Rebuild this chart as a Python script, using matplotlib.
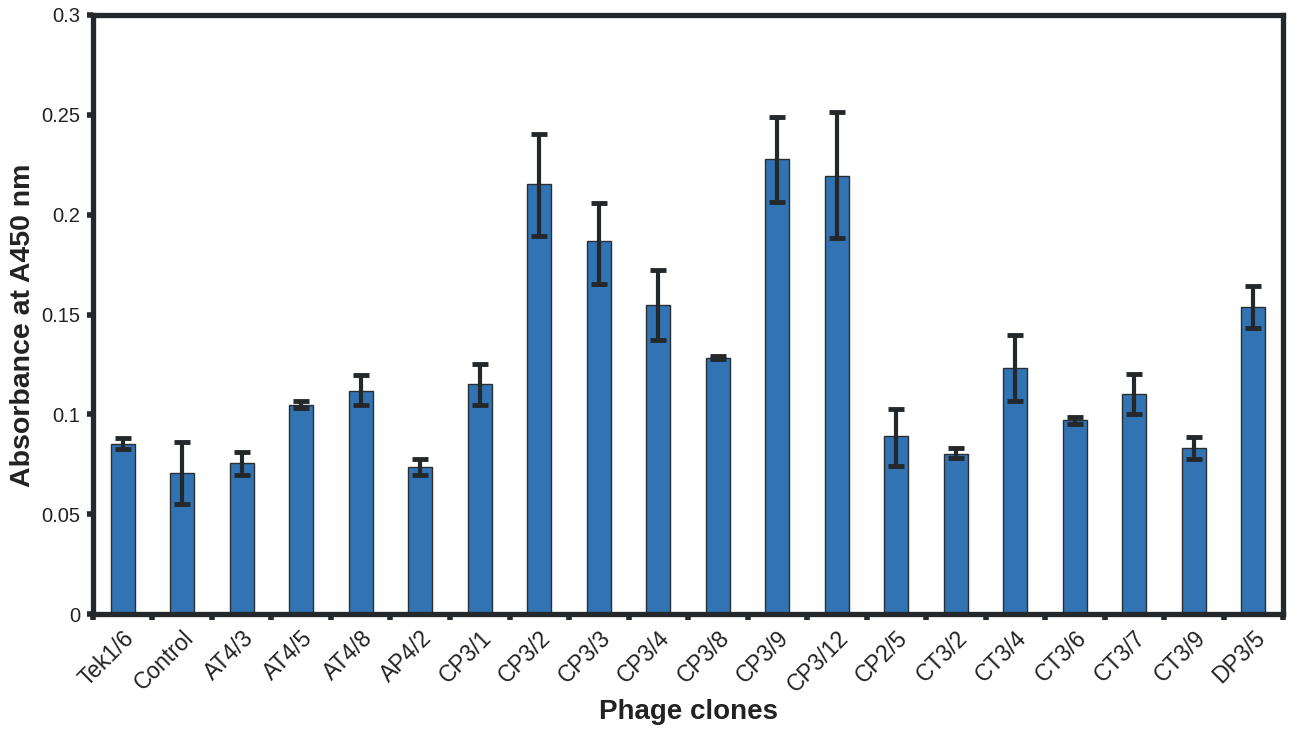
import matplotlib
matplotlib.use('Agg')
import matplotlib.pyplot as plt
import numpy as np

plt.rcParams['font.family'] = ['Liberation Sans', 'DejaVu Sans']

# phage clones and absorbance readings (mean, upper and lower error ends)
clones = ['Tek1/6', 'Control', 'AT4/3', 'AT4/5', 'AT4/8', 'AP4/2', 'CP3/1',
          'CP3/2', 'CP3/3', 'CP3/4', 'CP3/8', 'CP3/9', 'CP3/12', 'CP2/5',
          'CT3/2', 'CT3/4', 'CT3/6', 'CT3/7', 'CT3/9', 'DP3/5']
absorb = [0.0851, 0.0706, 0.0756, 0.1047, 0.1117, 0.0736, 0.1152,
          0.2153, 0.1868, 0.1547, 0.1282, 0.2278, 0.2193, 0.0891,
          0.0801, 0.1232, 0.0971, 0.1102, 0.0831, 0.1537]
err_hi = [0.0880, 0.0860, 0.0810, 0.1067, 0.1197, 0.0776, 0.1252,
          0.2404, 0.2058, 0.1723, 0.1290, 0.2489, 0.2514, 0.1027,
          0.0831, 0.1397, 0.0986, 0.1202, 0.0886, 0.1642]
err_lo = [0.0826, 0.0550, 0.0696, 0.1032, 0.1047, 0.0696, 0.1047,
          0.1893, 0.1652, 0.1372, 0.1277, 0.2063, 0.1883, 0.0741,
          0.0781, 0.1067, 0.0951, 0.1002, 0.0776, 0.1432]

absorb = np.array(absorb)
yerr = [absorb - np.array(err_lo), np.array(err_hi) - absorb]

dark = '#24282b'
txt = '#222222'
fig = plt.figure(figsize=(13, 7.31), dpi=100)
ax = fig.add_axes([0.0715, 0.160, 0.9155, 0.8195])

x = np.arange(len(clones))
ax.bar(x, absorb, width=0.4, color='#3274b3', edgecolor='#2a2e30', linewidth=1.0, zorder=2)
eb = ax.errorbar(x, absorb, yerr=yerr, fmt='none', ecolor=dark, elinewidth=3,
                 capsize=6, capthick=3.5, zorder=3)

ax.set_xlim(-0.5, len(clones) - 0.5)
ax.set_ylim(0, 0.3)
ax.set_yticks([0, 0.05, 0.1, 0.15, 0.2, 0.25, 0.3])
ax.set_yticklabels(['0', '0.05', '0.1', '0.15', '0.2', '0.25', '0.3'],
                   fontsize=14.5, color=txt)

# category boundaries get the tick marks, labels sit under the bars
ax.set_xticks(np.arange(len(clones) + 1) - 0.5)
ax.set_xticklabels([])
ax.set_xticks(x, minor=True)
ax.set_xticklabels(clones, minor=True, rotation=45, ha='right',
                   rotation_mode='anchor', fontsize=16.5, color=txt)
ax.tick_params(axis='x', which='minor', length=0, pad=9)
ax.tick_params(axis='x', which='major', length=4, width=4, color=dark)
ax.tick_params(axis='y', length=4, width=4, color=dark, pad=5)

for s in ax.spines.values():
    s.set_linewidth(3.8)
    s.set_color(dark)

ax.set_xlabel('Phage clones', fontsize=20, fontweight='bold', labelpad=2, color=txt)
ax.set_ylabel('Absorbance at A450 nm', fontsize=20.5, fontweight='bold', labelpad=2, color=txt)
ax.yaxis.set_label_coords(-0.048, 0.482)

fig.savefig('out.png', dpi=100)
